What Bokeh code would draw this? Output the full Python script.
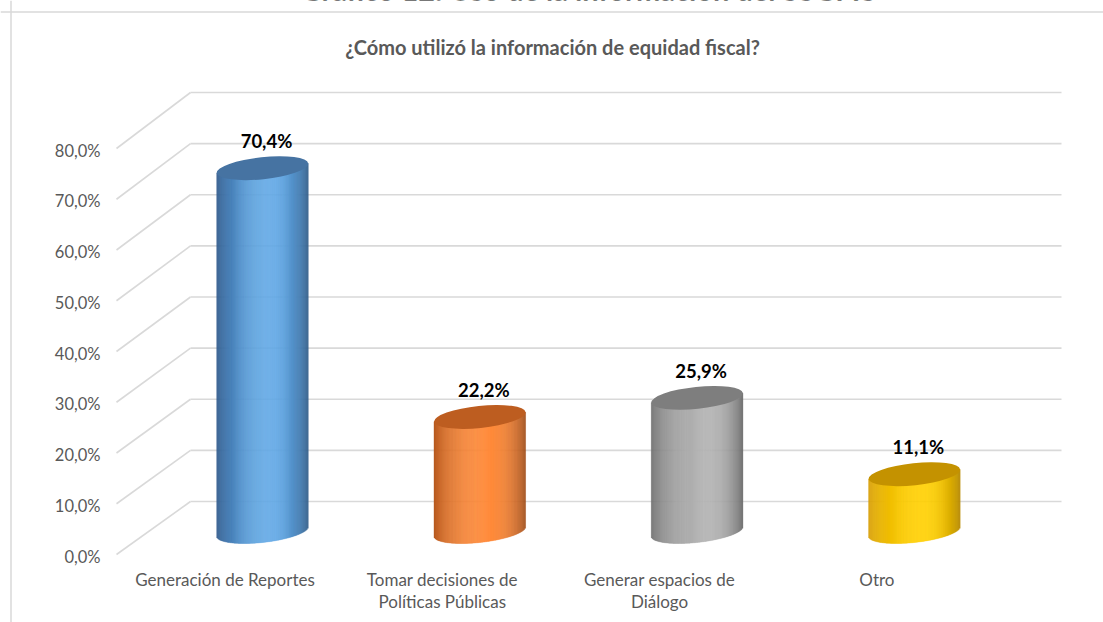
import numpy as np
from bokeh.plotting import figure
from bokeh.models import Range1d, Span
from bokeh.embed import file_html
from bokeh.resources import INLINE
from bokeh.core.properties import value

# ---------------- data ----------------
categories = ["Generación de Reportes",
              "Tomar decisiones de\nPolíticas Públicas",
              "Generar espacios de\nDiálogo",
              "Otro"]
values = [70.4, 22.2, 25.9, 11.1]
value_labels = ["70,4%", "22,2%", "25,9%", "11,1%"]
y_ticks = [0, 10, 20, 30, 40, 50, 60, 70, 80]
y_tick_labels = ["0,0%", "10,0%", "20,0%", "30,0%", "40,0%",
                 "50,0%", "60,0%", "70,0%", "80,0%"]
chart_title = "¿Cómo utilizó la información de equidad fiscal?"
page_title = "Gráfico 12: Uso de la información del SSGFIS"

# bar colours: (left dark, highlight, right dark, top ellipse)
bar_colors = [
    ("#2c5687", "#63a9e6", "#2f5a85", "#4673a2"),
    ("#b3541a", "#ff8b3a", "#9a4714", "#bd5d20"),
    ("#6a6a6a", "#b4b4b4", "#686868", "#7e7e7e"),
    ("#d49a00", "#ffd000", "#b38600", "#c49200"),
]

# ---------------- layout / scales ----------------
W, H = 1103, 622
XS = 217.3          # px per category
X0 = 262.0          # canvas px of category 0
YS = 5.16           # px per percent
Y0 = 531.0          # canvas px of 0 %

def xd(px):
    return (px - X0) / XS

def yd(py):
    return (Y0 - py) / YS

p = figure(width=W, height=H, output_backend="svg", toolbar_location=None,
           x_range=Range1d(-X0 / XS, (W - X0) / XS),
           y_range=Range1d((Y0 - H) / YS, Y0 / YS),
           x_axis_location=None, y_axis_location=None,
           min_border=0, min_border_left=0, min_border_right=0,
           min_border_top=0, min_border_bottom=0)
p.grid.visible = False
p.outline_line_color = None
p.background_fill_color = "white"
p.border_fill_color = "white"

FONT = value("Lato")
GRID = "#d9d9d9"
TXT = "#595959"

# chart area border
p.add_layout(Span(location=xd(10.5), dimension="height", line_color=GRID, line_width=1.5))
p.add_layout(Span(location=yd(11.5), dimension="width", line_color=GRID, line_width=1.5))

# ---------------- 3D walls ----------------
ticks = np.array(y_ticks, dtype=float)
back_scale = (yd(92) - yd(501)) / 80.0
front_scale = (yd(150) - yd(556)) / 80.0
back_y = yd(501) + ticks * back_scale
front_y = yd(556) + ticks * front_scale

p.segment(x0=[xd(190)] * len(ticks), y0=back_y,
          x1=[xd(1061)] * len(ticks), y1=back_y,
          line_color=GRID, line_width=1.6)
p.segment(x0=[xd(116)] * len(ticks), y0=front_y + 2 / YS,
          x1=[xd(190)] * len(ticks), y1=back_y,
          line_color=GRID, line_width=1.6)

p.text(x=[xd(100)] * len(ticks), y=front_y, text=y_tick_labels,
       text_align="right", text_baseline="middle",
       text_font=FONT, text_font_size="16.5px", text_color=TXT)

# ---------------- cylinders ----------------
ANG = 0.105
A_PX, B_PX = 46.0, 11.0
AX = np.sqrt((A_PX * np.cos(ANG)) ** 2 + (B_PX * np.sin(ANG)) ** 2)
NSTRIP = 90
edges = np.linspace(-AX, AX, NSTRIP + 1)
mids = 0.5 * (edges[:-1] + edges[1:])
tpos = (mids + AX) / (2 * AX)
TP = 0.6

def hex2rgb(h):
    h = h.lstrip("#")
    return np.array([int(h[i:i + 2], 16) for i in (0, 2, 4)], dtype=float)

def rgb2hex(c):
    c = np.clip(np.round(c), 0, 255).astype(int)
    return "#%02x%02x%02x" % tuple(c)

L, R, T, B, C = [], [], [], [], []
for i, (v, cols) in enumerate(zip(values, bar_colors)):
    dl, hi, dr, _ = [hex2rgb(c) for c in cols]
    for k in range(NSTRIP):
        t = tpos[k]
        if t < TP:
            f = np.sin(np.pi / 2 * t / TP)
            base = dl
        else:
            f = np.cos(np.pi / 2 * (t - TP) / (1 - TP))
            base = dr
        f = max(f, 0.0) ** 0.7
        col = base + (hi - base) * f
        dx = mids[k]
        tilt = dx * np.tan(ANG)
        low = tilt - B_PX * np.sqrt(max(0.0, 1 - (dx / AX) ** 2))
        L.append(i + edges[k] / XS)
        R.append(i + edges[k + 1] / XS)
        T.append(v + tilt / YS)
        B.append(low / YS)
        C.append(rgb2hex(col))

p.quad(left=L, right=R, top=T, bottom=B, fill_color=C, line_color=C, line_width=0.4)

xs = list(range(len(values)))
p.ellipse(x=xs, y=values, width=2 * A_PX, height=2 * B_PX,
          width_units="screen", height_units="screen", angle=ANG,
          fill_color=[c[3] for c in bar_colors], line_color=None)

# value labels
p.text(x=[x + 4 / XS for x in xs], y=[v + 27 / YS for v in values], text=value_labels,
       text_align="center", text_baseline="middle",
       text_font=FONT, text_font_size="18.5px", text_font_style="bold",
       text_color="black")

# category labels
p.text(x=[x - 37.5 / XS for x in xs], y=[yd(568)] * len(xs), text=categories,
       text_align="center", text_baseline="top", text_line_height=1.05,
       text_font=FONT, text_font_size="17px", text_color=TXT)

# titles
p.text(x=[xd(552)], y=[yd(46)], text=[chart_title],
       text_align="center", text_baseline="middle",
       text_font=FONT, text_font_size="20px", text_font_style="bold",
       text_color=TXT)
p.text(x=[xd(588)], y=[yd(-11)], text=[page_title],
       text_align="center", text_baseline="middle",
       text_font=FONT, text_font_size="29px", text_font_style="bold",
       text_color="black")

open("out.html", "w").write(file_html(p, INLINE))
